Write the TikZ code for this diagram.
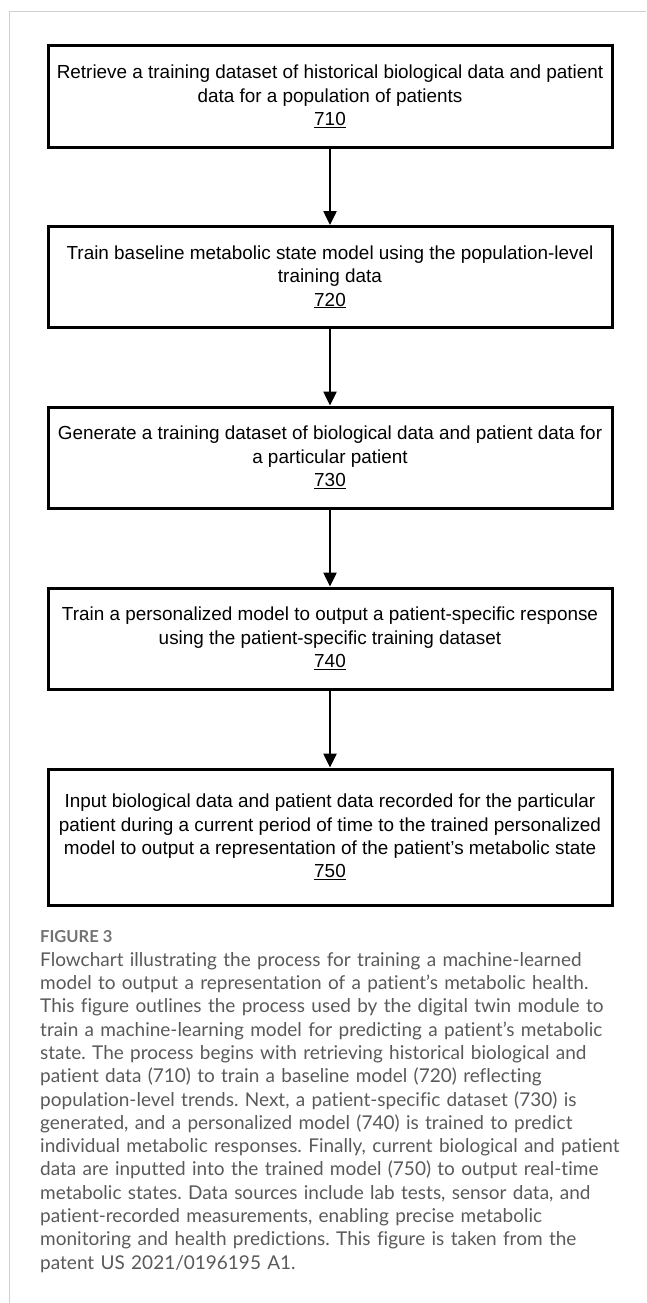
\documentclass[tikz,border=0pt]{standalone}
\usepackage{fontspec}
\usepackage{xcolor}
\usetikzlibrary{arrows.meta}
\setmainfont{Liberation Sans}
\newfontfamily\capfont[Ligatures=NoCommon]{Lato}
\definecolor{framegray}{HTML}{D0D0D0}
\definecolor{capgray}{HTML}{5A5A5A}
\frenchspacing

\begin{document}
\begin{tikzpicture}[x=1pt, y=-1pt,
    stepbox/.style={draw, line width=3pt, minimum width=564pt, minimum height=101pt,
      align=center, inner sep=0pt,
      font=\fontsize{18.9}{23.3}\selectfont},
    flow/.style={-{Triangle[length=14pt,width=13pt]}, line width=2.5pt}]
  \useasboundingbox (0,0) rectangle (646,1303);
  % frame
  \draw[framegray, line width=1.5pt] (9.5,1303) -- (9.5,11.5) -- (646,11.5);
  % steps
  \node[stepbox] (s710) at (330,96.5) {Retrieve a training dataset of historical biological data and patient\\ data for a population of patients\\ \underline{710}};
  \node[stepbox] (s720) at (330,277) {Train baseline metabolic state model using the population-level\\ training data\\ \underline{720}};
  \node[stepbox] (s730) at (330,457.5) {Generate a training dataset of biological data and patient data for\\ a particular patient\\ \underline{730}};
  \node[stepbox] (s740) at (330,638.5) {Train a personalized model to output a patient-specific response\\ using the patient-specific training dataset\\ \underline{740}};
  \node[stepbox, minimum height=136pt] (s750) at (330,837) {Input biological data and patient data recorded for the particular\\ patient during a current period of time to the trained personalized\\ model to output a representation of the patient’s metabolic state\\ \underline{750}};
  \draw[flow] (s710) -- (s720);
  \draw[flow] (s720) -- (s730);
  \draw[flow] (s730) -- (s740);
  \draw[flow] (s740) -- (s750);
  % caption
  \node[anchor=base west, inner sep=0pt, text=capgray!85!white,
    font=\capfont\bfseries\fontsize{16.5}{18}\selectfont] (fig) at (40,942) {FIGURE 3};
  \node[anchor=north west, inner sep=0pt, text width=600pt, align=left, text=capgray,
    font=\capfont\fontsize{19}{23.3}\selectfont] (cap) at (40,952) {Flowchart illustrating the process for training a machine-learned\\
model to output a representation of a patient’s metabolic health.\\
This figure outlines the process used by the digital twin module to\\
train a machine-learning model for predicting a patient’s metabolic\\
state. The process begins with retrieving historical biological and\\
patient data (710) to train a baseline model (720) reflecting\\
population-level trends. Next, a patient-specific dataset (730) is\\
generated, and a personalized model (740) is trained to predict\\
individual metabolic responses. Finally, current biological and patient\\
data are inputted into the trained model (750) to output real-time\\
metabolic states. Data sources include lab tests, sensor data, and\\
patient-recorded measurements, enabling precise metabolic\\
monitoring and health predictions. This figure is taken from the\\
patent US 2021/0196195 A1.};
\end{tikzpicture}
\end{document}
